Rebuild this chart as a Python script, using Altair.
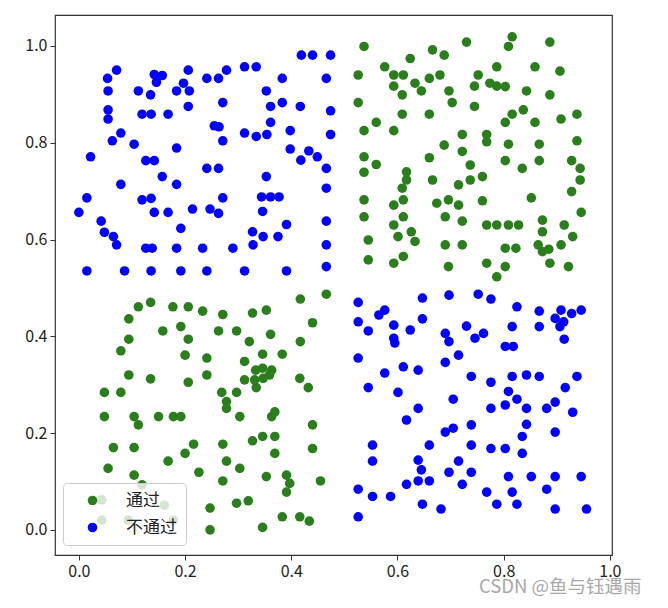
import altair as alt
import pandas as pd

labels_order = ["通过", "不通过"]
colors = ["#2a7f1c", "#0000ff"]

# 不通过 (blue)
fail_x = [0.071,0.054,0.055,0.142,0.157,0.146,0.112,0.135,0.184,0.206,0.197,0.208,0.241,0.263,0.278,0.055,0.055,0.119,0.136,0.168,0.206,0.271,0.255,0.264,0.079,0.063,0.104,0.184,0.271,0.022,0.126,0.142,0.241,0.263,0.157,0.079,0.184,
          0.312,0.334,0.419,0.440,0.474,0.383,0.466,0.353,0.383,0.361,0.417,0.474,0.361,0.312,0.334,0.354,0.398,0.474,0.398,0.418,0.433,0.449,0.466,0.353,0.466,
          0.015,0.119,0.136,0.271,0.000,0.042,0.048,0.065,0.071,0.142,0.168,0.214,0.247,0.263,0.192,0.126,0.138,0.184,0.233,0.290,0.015,0.086,0.136,0.192,0.241,
          0.344,0.361,0.377,0.346,0.391,0.327,0.347,0.328,0.375,0.466,0.466,0.466,0.312,0.391,
          0.526,0.647,0.565,0.576,0.526,0.545,0.593,0.593,0.595,0.624,0.647,0.526,0.611,0.639,0.576,
          0.697,0.752,0.776,0.825,0.867,0.908,0.897,0.913,0.928,0.946,0.906,0.914,0.730,0.690,0.697,0.746,0.762,0.816,0.867,0.803,0.818,0.715,0.690,
          0.545,0.601,0.639,0.617,0.553,0.553,0.639,0.645,0.617,0.639,0.526,0.553,0.587,0.647,0.526,
          0.739,0.776,0.816,0.843,0.867,0.938,0.916,0.809,0.825,0.803,0.705,0.776,0.843,0.881,0.897,0.930,0.739,0.705,0.690,0.843,0.835,0.897,0.660,0.739,0.776,0.803,0.835,0.715,0.697,0.739,0.660,0.722,0.809,0.852,0.897,0.946,0.881,0.768,0.816,0.787,0.825,0.682,0.897,0.956]
fail_y = [0.950,0.933,0.907,0.941,0.939,0.925,0.907,0.899,0.907,0.950,0.923,0.907,0.933,0.933,0.950,0.868,0.849,0.859,0.859,0.859,0.875,0.883,0.835,0.833,0.820,0.804,0.797,0.789,0.804,0.771,0.763,0.763,0.747,0.747,0.730,0.714,0.714,
          0.957,0.957,0.981,0.981,0.981,0.933,0.933,0.907,0.883,0.875,0.875,0.866,0.842,0.820,0.813,0.817,0.825,0.817,0.787,0.764,0.783,0.771,0.747,0.730,0.706,
          0.686,0.682,0.685,0.686,0.656,0.638,0.615,0.606,0.589,0.656,0.656,0.663,0.663,0.654,0.623,0.582,0.582,0.582,0.582,0.582,0.535,0.535,0.535,0.535,0.535,
          0.688,0.688,0.688,0.658,0.631,0.616,0.606,0.589,0.606,0.638,0.589,0.544,0.535,0.535,
          0.470,0.479,0.444,0.454,0.430,0.411,0.423,0.396,0.386,0.413,0.436,0.355,0.337,0.330,0.324,
          0.485,0.487,0.477,0.461,0.452,0.454,0.437,0.430,0.447,0.454,0.420,0.394,0.421,0.406,0.389,0.396,0.406,0.420,0.420,0.379,0.379,0.361,0.346,
          0.294,0.284,0.251,0.227,0.175,0.142,0.144,0.124,0.094,0.101,0.084,0.069,0.069,0.053,0.027,
          0.317,0.305,0.317,0.320,0.317,0.317,0.294,0.286,0.270,0.258,0.270,0.251,0.251,0.251,0.264,0.243,0.217,0.210,0.202,0.218,0.193,0.202,0.175,0.175,0.168,0.168,0.158,0.142,0.119,0.119,0.101,0.094,0.110,0.110,0.110,0.110,0.084,0.078,0.078,0.053,0.053,0.043,0.043,0.043]

# 通过 (green)
pass_x = [0.537,0.526,0.624,0.576,0.593,0.611,0.593,0.633,0.645,0.609,0.526,0.609,0.560,0.537,0.593,0.537,0.560,0.537,0.617,0.617,0.609,
          0.816,0.809,0.730,0.887,0.666,0.688,0.787,0.859,0.906,0.660,0.680,0.752,0.745,0.774,0.787,0.803,0.843,0.887,0.697,0.703,0.745,0.660,0.816,0.837,0.803,0.859,0.908,0.938,0.722,0.768,0.768,0.688,0.809,0.867,0.938,0.660,0.722,0.737,0.803,0.867,0.835,0.928,0.944,0.944,0.666,0.715,0.737,0.760,0.928,
          0.674,0.696,0.715,0.690,0.722,0.760,0.852,0.946,0.768,0.787,0.809,0.828,0.873,0.873,0.914,0.930,0.690,0.722,0.803,0.823,0.865,0.873,0.885,0.908,0.887,0.922,0.768,0.803,0.787,0.696,
          0.537,0.537,0.593,0.611,0.593,0.611,0.601,0.626,0.633,0.545,0.545,0.593,0.611,
          0.417,0.466,0.327,0.353,0.440,0.321,0.361,0.417,0.346,0.383,0.312,0.333,0.346,0.363,
          0.135,0.112,0.177,0.206,0.233,0.271,0.094,0.192,0.158,0.263,0.297,0.094,0.206,0.079,0.200,0.241,
          0.094,0.135,0.206,0.241,0.048,0.079,0.269,0.297,0.278,0.278,0.048,0.104,0.112,0.150,0.178,0.192,0.303,0.065,0.104,0.216,0.200,0.271,0.168,0.278,0.055,0.226,0.303,0.104,0.271,0.119,0.043,0.043,0.093,0.161,0.178,0.247,0.247,0.297,
          0.312,0.331,0.347,0.359,0.334,0.416,0.432,0.363,0.369,0.440,0.327,0.346,0.369,0.369,0.440,0.353,0.391,0.397,0.391,0.455,0.319,0.383,0.416,0.434,0.346]
pass_y = [0.999,0.940,0.974,0.957,0.940,0.940,0.917,0.923,0.907,0.899,0.883,0.859,0.842,0.825,0.825,0.771,0.755,0.739,0.740,0.723,0.706,
          1.019,0.999,1.008,1.008,0.992,0.981,0.957,0.957,0.948,0.933,0.940,0.940,0.917,0.923,0.917,0.916,0.907,0.899,0.907,0.883,0.875,0.859,0.859,0.868,0.842,0.842,0.849,0.859,0.817,0.817,0.802,0.795,0.797,0.797,0.804,0.769,0.782,0.754,0.763,0.763,0.747,0.763,0.747,0.723,0.723,0.713,0.723,0.730,0.699,
          0.675,0.682,0.671,0.647,0.638,0.680,0.686,0.656,0.630,0.630,0.630,0.630,0.640,0.616,0.630,0.606,0.589,0.589,0.582,0.582,0.589,0.575,0.580,0.589,0.551,0.544,0.551,0.544,0.523,0.544,
          0.682,0.647,0.671,0.682,0.630,0.647,0.606,0.616,0.596,0.599,0.558,0.551,0.565,
          0.477,0.487,0.448,0.454,0.428,0.389,0.404,0.389,0.363,0.363,0.348,0.330,0.334,0.330,
          0.470,0.461,0.461,0.461,0.452,0.445,0.436,0.420,0.411,0.411,0.411,0.394,0.394,0.370,0.361,0.355,
          0.320,0.312,0.305,0.320,0.284,0.284,0.284,0.284,0.265,0.251,0.234,0.234,0.217,0.234,0.234,0.234,0.234,0.170,0.170,0.177,0.158,0.177,0.142,0.142,0.127,0.119,0.127,0.113,0.101,0.093,0.062,0.020,0.020,0.051,0.020,0.045,0.000,0.055,
          0.310,0.310,0.313,0.320,0.294,0.313,0.294,0.234,0.244,0.217,0.184,0.193,0.193,0.158,0.168,0.110,0.113,0.096,0.078,0.101,0.060,0.027,0.027,0.018,0.005]

tick_values = [0.0, 0.2, 0.4, 0.6, 0.8, 1.0]
watermark = ["CSDN @鱼与钰遇雨"]

df = pd.concat([
    pd.DataFrame({"x": pass_x, "y": pass_y, "label": "通过"}),
    pd.DataFrame({"x": fail_x, "y": fail_y, "label": "不通过"}),
], ignore_index=True)

font = "Noto Sans CJK SC"

points = alt.Chart(df).mark_circle(size=92, opacity=1).encode(
    x=alt.X("x:Q", scale=alt.Scale(domain=[-0.045, 1.004], nice=False, zero=False),
            axis=alt.Axis(values=tick_values, format=".1f", title=None)),
    y=alt.Y("y:Q", scale=alt.Scale(domain=[-0.052, 1.064], nice=False, zero=False),
            axis=alt.Axis(values=tick_values, format=".1f", title=None)),
    color=alt.Color("label:N", scale=alt.Scale(domain=labels_order, range=colors),
                    legend=alt.Legend(title=None, orient="none", legendX=8, legendY=468,
                                      fillColor="rgba(255,255,255,0.8)", strokeColor="#cccccc",
                                      cornerRadius=4, padding=9, rowPadding=9,
                                      symbolOffset=12, labelOffset=25,
                                      labelFont=font, labelFontSize=17, labelColor="#222222",
                                      symbolSize=92, symbolType="circle", symbolStrokeWidth=0,
                                      symbolOpacity=1)),
    order=alt.Order("label:N", sort="descending"),
)

wm = alt.Chart(pd.DataFrame({"t": watermark})).mark_text(
    align="left", baseline="middle", font=font, fontSize=18.5, color="#a8a8a8"
).encode(text="t:N", x=alt.value(424), y=alt.value(572))

chart = alt.layer(points, wm).properties(
    width=557, height=540,
    padding={"left": 47, "top": 7, "right": 48, "bottom": 44},
    autosize=alt.AutoSizeParams(type="none"),
).configure_view(stroke="#333333", strokeWidth=1.2).configure_axis(
    grid=False, domain=False, tickColor="#333333", tickSize=5, tickWidth=1,
    labelFont=font, labelFontSize=16, labelColor="#222222", labelPadding=3,
)

chart.save("out.html", embed_options={"renderer": "svg", "actions": False})
